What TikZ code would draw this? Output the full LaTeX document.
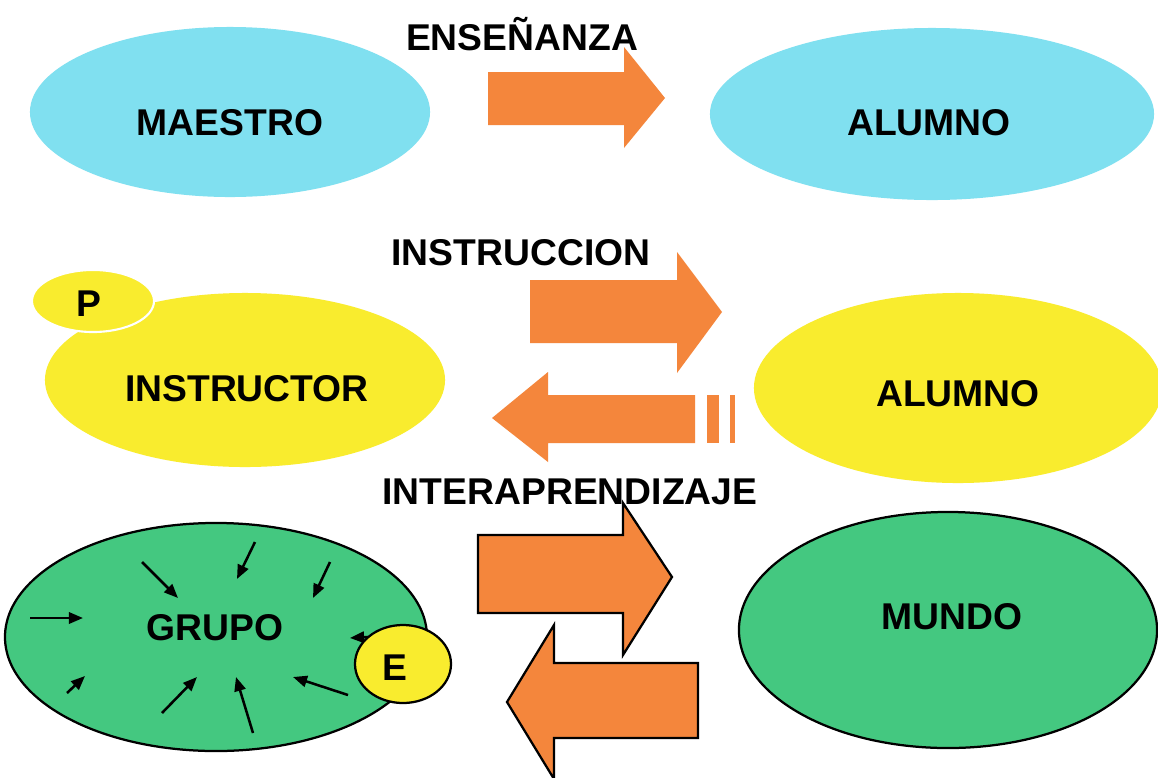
\documentclass[tikz,border=0pt]{standalone}
\usepackage{fontspec}
\usepackage{tikz}
\usetikzlibrary{shapes.geometric, arrows.meta, positioning}
\newfontfamily\arialfont{Liberation Sans}
\definecolor{bubblecyan}{RGB}{128,224,240}
\definecolor{bubbleyellow}{RGB}{249,236,46}
\definecolor{bubblegreen}{RGB}{68,200,128}
\definecolor{arroworange}{RGB}{244,134,60}

\begin{document}
\begin{tikzpicture}[
    x=0.025cm, y=-0.025cm,
    bubble/.style={ellipse, inner sep=0pt},
    lbl/.style={inner sep=0pt, font=\arialfont\fontsize{26.5}{30}\bfseries},
    blockarrow/.style={fill=arroworange},
    blockline/.style={fill=arroworange, draw=black, line width=1.6pt, line join=miter},
    ray/.style={line width=1.8pt, -{Triangle[length=10pt, width=8pt]}}
]
    \fill[white] (0,0) rectangle (1158,777);
    \useasboundingbox (0,0) rectangle (1158,777);

    % row 1: ensenanza
    \node[bubble, fill=bubblecyan, minimum width=10cm, minimum height=4.25cm] (maestro) at (230,112) {};
    \node[bubble, fill=bubblecyan, minimum width=11.1cm, minimum height=4.3cm] (alumnoA) at (932,114) {};
    \node[lbl] (maestroT) at (230,123) {MAESTRO};
    \node[lbl] (alumnoAT) at (929,123) {ALUMNO};
    \node[lbl] (ensenanza) at (522,34) {ENSEÑANZA};
    \fill[blockarrow] (488,72) -- (624,72) -- (624,47) -- (665,98) -- (624,148) -- (624,125) -- (488,125) -- cycle;

    % row 2: instruccion
    \node[bubble, fill=bubbleyellow, minimum width=10cm, minimum height=4.35cm] (instructor) at (245,380) {};
    \node[bubble, fill=bubbleyellow, draw=white, line width=1.5pt, minimum width=3.05cm, minimum height=1.55cm] (prof) at (93,301) {};
    \node[bubble, fill=bubbleyellow, minimum width=10.2cm, minimum height=4.75cm] (alumnoB) at (958,388) {};
    \node[lbl] (instructorT) at (247,389) {INSTRUCTOR};
    \node[lbl] (profT) at (89,304) {P};
    \node[lbl] (alumnoBT) at (958,394) {ALUMNO};
    \node[lbl] (instruccion) at (521,253) {INSTRUCCION};
    \fill[blockarrow] (530,280) -- (677,280) -- (677,252) -- (722,312) -- (677,373) -- (677,343) -- (530,343) -- cycle;
    \fill[blockarrow] (492,418) -- (548,372) -- (548,395) -- (695,395) -- (695,443) -- (548,443) -- (548,462) -- cycle;
    \fill[blockarrow] (707,395) rectangle (719,443);
    \fill[blockarrow] (730,395) rectangle (735,443);

    % row 3: interaprendizaje
    \node[bubble, fill=bubblegreen, draw=black, line width=1.6pt, minimum width=10.55cm, minimum height=5.7cm] (grupo) at (216,637) {};
    \node[bubble, fill=bubblegreen, draw=black, line width=1.6pt, minimum width=10.45cm, minimum height=5.9cm] (mundo) at (948,630) {};
    \node[lbl] (grupoT) at (215,628) {GRUPO};
    \node[lbl] (mundoT) at (952,617) {MUNDO};
    \foreach \sx/\sy/\ex/\ey in {30/618/83/618, 142/562/178/598, 255/542/237/579,
        330/562/313/598, 368/637/350/638, 348/695/293/677, 253/733/236/677,
        162/713/197/677, 67/693/85/676}
        \draw[ray] (\sx,\sy) -- (\ex,\ey);
    \node[bubble, fill=bubbleyellow, draw=black, line width=1.6pt, minimum width=2.4cm, minimum height=1.95cm] (equipo) at (403,664) {};
    \node[lbl] (equipoT) at (395,668) {E};
    \node[lbl] (interap) at (570,492) {INTERAPRENDIZAJE};
    \filldraw[blockline] (478,535) -- (623,535) -- (623,503) -- (672,577) -- (623,655) -- (623,613) -- (478,613) -- cycle;
    \filldraw[blockline] (507,702) -- (554,625) -- (554,663) -- (698,663) -- (698,738) -- (554,738) -- (554,779) -- cycle;
\end{tikzpicture}
\end{document}
